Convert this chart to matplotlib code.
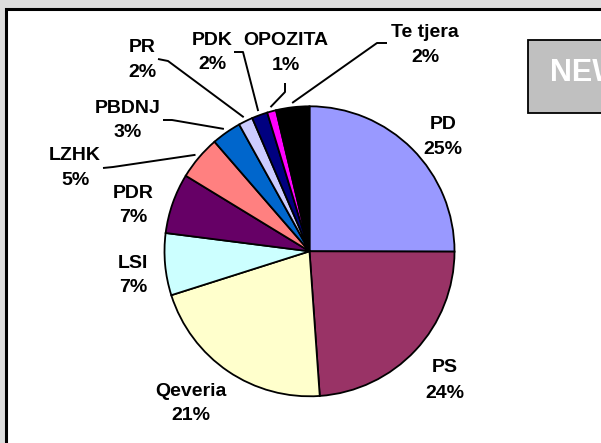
import numpy as np
import matplotlib.pyplot as plt
from matplotlib.patches import Rectangle

# shares as drawn in the chart (slice sizes) and the labels printed on it
parties = ["PD", "PS", "Qeveria", "LSI", "PDR", "LZHK", "PBDNJ", "PR", "PDK", "OPOZITA", "Te tjera"]
shares = [25.0, 23.8, 21.2, 6.9, 6.7, 4.9, 3.3, 1.6, 1.75, 1.0, 3.7]
pct_labels = ["25%", "24%", "21%", "7%", "7%", "5%", "3%", "2%", "2%", "1%", "2%"]
colors = ["#9999FF", "#993366", "#FFFFCC", "#CCFFFF", "#660066", "#FF8080",
          "#0066CC", "#CCCCFF", "#000080", "#FF00FF", "#000000"]

W, H = 601, 443
CX, CY, R = 309.5, 251.3, 145


def P(x, y):
    # picture pixel (from top-left) -> axes data coords
    return x, H - y


# label centres (name line, percent line share the x)
label_pos = {
    "PD": (443, 124, 149),
    "PS": (445, 368, 394),
    "Qeveria": (191, 391, 415),
    "LSI": (133, 263, 287),
    "PDR": (133, 193, 217),
    "LZHK": (75, 155, 180),
    "PBDNJ": (128, 108, 132),
    "PR": (142, 47, 72),
    "PDK": (212, 40, 64),
    "OPOZITA": (286, 40, 65),
    "Te tjera": (425, 32, 57),
}

# leader line start + elbow for the small slices
leaders = {
    "LZHK": [(103, 168), (113, 167)],
    "PBDNJ": [(163, 120), (172, 120)],
    "PR": [(158, 59), (168, 61)],
    "PDK": [(234, 52), (243, 52)],
    "OPOZITA": [(285, 83), (285, 92)],
    "Te tjera": [(387, 43), (377, 43)],
}

fig = plt.figure(figsize=(W / 100, H / 100), dpi=100)
fig.patch.set_facecolor("#DDDDDD")
ax = fig.add_axes([0, 0, 1, 1])
ax.set_facecolor("none")

# white chart area with black frame
ax.add_patch(Rectangle(P(6, 460), 620, 451, facecolor="white",
                       edgecolor="black", lw=2.2, zorder=0))

ax.pie(shares, colors=colors, startangle=90, counterclock=False,
       center=P(CX, CY), radius=R, frame=True,
       wedgeprops=dict(edgecolor="black", linewidth=1.3))

font = dict(family=["Liberation Sans", "DejaVu Sans"], fontweight="bold", fontsize=14)
for name, pct in zip(parties, pct_labels):
    x, y1, y2 = label_pos[name]
    ax.text(*P(x, y1), name, ha="center", va="center", **font)
    ax.text(*P(x, y2), pct, ha="center", va="center", **font)

# leader lines end at the middle of each slice
total = sum(shares)
cum = np.cumsum([0] + shares)
for i, name in enumerate(parties):
    if name not in leaders:
        continue
    mid = (cum[i] + cum[i + 1]) / 2 / total * 2 * np.pi
    ex = CX + 1.03 * R * np.sin(mid)
    ey = CY - 1.03 * R * np.cos(mid)
    pts = leaders[name] + [(ex, ey)]
    xs = [p[0] for p in pts]
    ys = [H - p[1] for p in pts]
    ax.plot(xs, ys, color="black", lw=1.4, solid_capstyle="butt")

# "NEW" box cut by the right edge
ax.add_patch(Rectangle(P(528, 113), 90, 73, facecolor="#C0C0C0",
                       edgecolor="black", lw=1.3))
ax.text(*P(550, 73), "NEW", ha="left", va="center", color="white",
        family=["Liberation Sans", "DejaVu Sans"], fontweight="bold", fontsize=22)

ax.set_xlim(0, W)
ax.set_ylim(0, H)
ax.axis("off")

fig.savefig("out.png", dpi=100, facecolor=fig.get_facecolor())
